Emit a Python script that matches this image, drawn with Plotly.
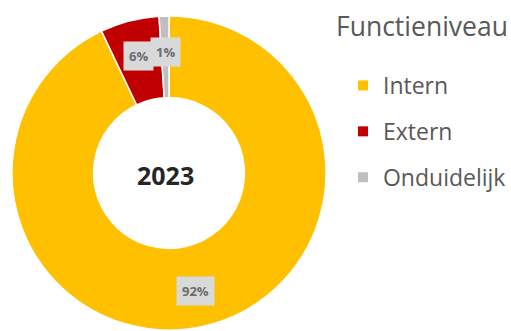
import math
import plotly.graph_objects as go

labels = ["Intern", "Extern", "Onduidelijk"]
values = [92, 6, 1]
pct_text = ["92%", "6%", "1%"]
colors = ["#FFC000", "#C00000", "#BFBFBF"]
center_label = "2023"
legend_title = "Functieniveau"

W, H = 511, 331
M_T = 15
PLOT_H = H - M_T
dom_x = [12 / W, 328 / W]
HOLE = 0.48

fig = go.Figure()
fig.add_trace(go.Pie(
    labels=labels, values=values, sort=False, direction="clockwise", rotation=0,
    hole=HOLE, marker=dict(colors=colors, line=dict(color="white", width=1.5)),
    textinfo="none", hoverinfo="label+percent", showlegend=False,
    domain=dict(x=dom_x, y=[0, 1]),
))

# dummy traces for legend
for lab, col in zip(labels, colors):
    fig.add_trace(go.Scatter(
        x=[None], y=[None], mode="markers", name=lab, legendgroup=lab,
        marker=dict(symbol="square", size=10, color=col),
    ))

# label positions computed from data
cx_px = (dom_x[0] + dom_x[1]) / 2 * W
radius = PLOT_H / 2
cy_px = M_T + radius
r_lab = radius * 0.765
total = sum(values)
cum = 0
annotations = []
for v, t in zip(values, pct_text):
    mid = (cum + v / 2) / total
    cum += v
    th = 2 * math.pi * mid
    px = cx_px + r_lab * math.sin(th)
    py = cy_px - r_lab * math.cos(th)
    annotations.append(dict(
        x=px / W, y=1 - (py - M_T) / PLOT_H, xref="paper", yref="paper",
        xanchor="center", yanchor="middle",
        text="<b>" + t + "</b>", showarrow=False, bgcolor="#D9D9D9", borderpad=5,
        font=dict(family="Open Sans", size=13, color="#6B6B6B"),
    ))

annotations.append(dict(
    x=(cx_px - 4) / W, y=1 - (175 - M_T) / PLOT_H, xref="paper", yref="paper",
    xanchor="center", yanchor="middle", text="<b>" + center_label + "</b>",
    showarrow=False, font=dict(family="Open Sans", size=25, color="#262626"),
))
annotations.append(dict(
    x=336 / W, y=1 - (26 - M_T) / PLOT_H, xref="paper", yref="paper",
    xanchor="left", yanchor="middle", text=legend_title, showarrow=False,
    font=dict(family="Open Sans", size=26.5, color="#595959"),
))

fig.update_layout(
    width=W, height=H, margin=dict(l=0, r=0, t=M_T, b=0),
    paper_bgcolor="white", plot_bgcolor="white",
    xaxis=dict(visible=False), yaxis=dict(visible=False),
    annotations=annotations,
    legend=dict(x=345 / W, y=1 - (64 - M_T) / PLOT_H, xanchor="left", yanchor="top",
                tracegroupgap=13, traceorder="grouped",
                font=dict(family="Open Sans", size=23, color="#595959")),
)

fig.write_html("out.html")
